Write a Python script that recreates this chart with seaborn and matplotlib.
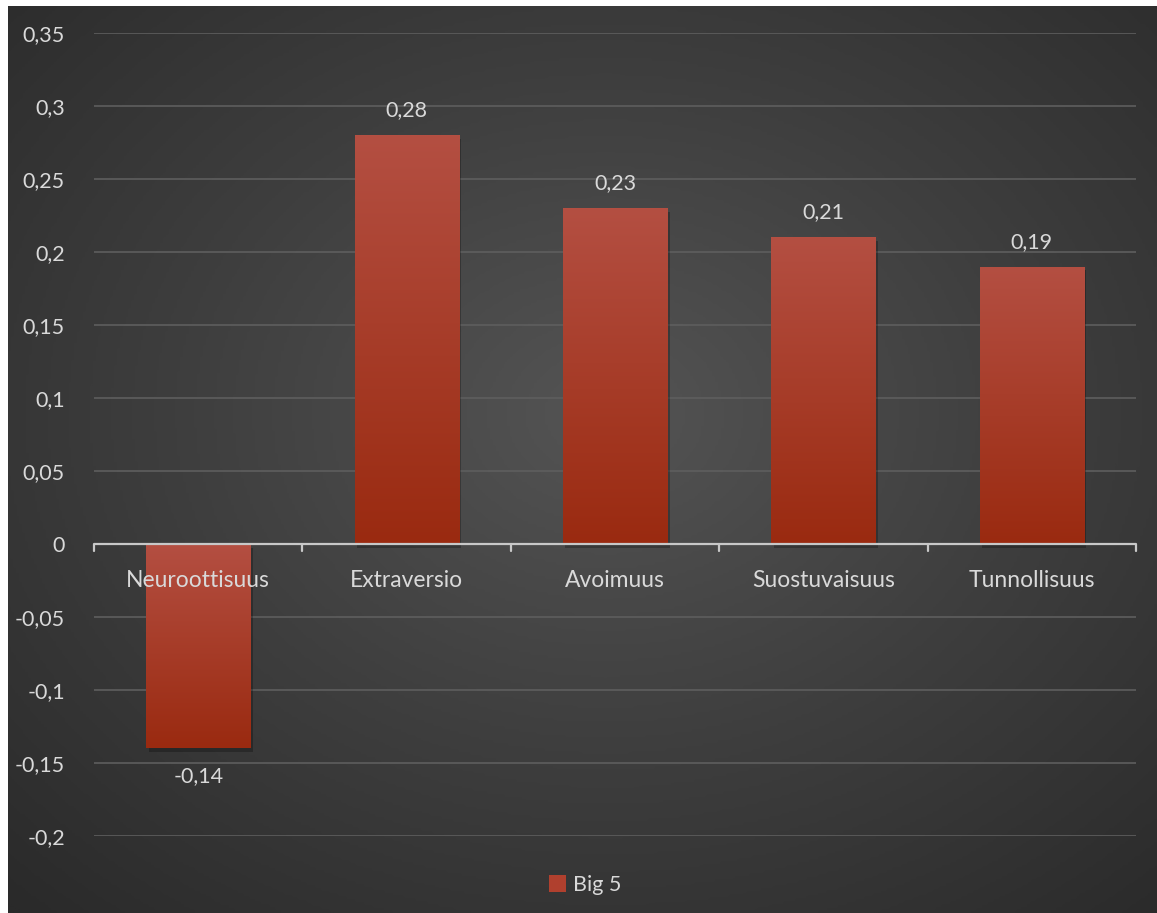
import numpy as np
import pandas as pd
import matplotlib
matplotlib.use("Agg")
import matplotlib.pyplot as plt
import seaborn as sns
from matplotlib.patches import Rectangle
from matplotlib.colors import LinearSegmentedColormap

categories = ["Neuroottisuus", "Extraversio", "Avoimuus", "Suostuvaisuus", "Tunnollisuus"]
values = [-0.14, 0.28, 0.23, 0.21, 0.19]
value_labels = ["-0,14", "0,28", "0,23", "0,21", "0,19"]
series_name = "Big 5"
yticks = [-0.2, -0.15, -0.1, -0.05, 0, 0.05, 0.1, 0.15, 0.2, 0.25, 0.3, 0.35]
ytick_labels = ["-0,2", "-0,15", "-0,1", "-0,05", "0", "0,05", "0,1", "0,15", "0,2", "0,25", "0,3", "0,35"]

sns.set_theme(style="white")
plt.rcParams['font.family'] = ['Lato', 'DejaVu Sans']
TXT = "#d9d9d9"

W, H = 1157, 913
fig = plt.figure(figsize=(W / 100, H / 100), dpi=100)
fig.patch.set_facecolor("white")

# background radial gradient
bx0, by0 = 8, 6
bg = fig.add_axes([bx0 / W, 0, (W - bx0) / W, (H - by0) / H])
bg.set_axis_off()
gx, gy = np.meshgrid(np.linspace(0, 1, 400), np.linspace(0, 1, 320))
cx, cy = 0.52, 0.45
r = np.sqrt(((gx - cx) / 0.75) ** 2 + ((gy - cy) / 0.75) ** 2)
r = np.clip(r, 0, 1)
bgcmap = LinearSegmentedColormap.from_list("bg", ["#545454", "#3e3e3e", "#2a2a2a"])
bg.imshow(r, cmap=bgcmap, aspect="auto", extent=[0, 1, 0, 1], origin="upper", vmin=0, vmax=1)
bg.set_xlim(0, 1); bg.set_ylim(0, 1)

ax_left, ax_right, ax_top, ax_bot = 94, 1136, 33, 836
ax = fig.add_axes([ax_left / W, 1 - ax_bot / H, (ax_right - ax_left) / W, (ax_bot - ax_top) / H])
ax.patch.set_alpha(0)

df = pd.DataFrame({"cat": categories, "val": values, "series": series_name})
sns.barplot(data=df, x="cat", y="val", hue="series", palette=["#b0402e"], width=0.5, ax=ax, legend=False)

ax.set_ylim(-0.2, 0.35)
ax.set_xlim(-0.5, len(categories) - 0.5)

for s in ax.spines.values():
    s.set_visible(False)
ax.set_yticks(yticks)
ax.set_yticklabels(ytick_labels, color=TXT, fontsize=15.5)
ax.tick_params(axis="y", length=0, pad=21)
ax.set_xticks([])
ax.set_xlabel(""); ax.set_ylabel("")
for yv in yticks:
    if yv != 0:
        ax.axhline(yv, color="#5e5e5e", lw=1.2, zorder=0)

# gradient bars with shadow
barcmap = LinearSegmentedColormap.from_list("bar", ["#9a2a10", "#b44f42"])
grad = np.linspace(1, 0, 256).reshape(-1, 1)
for p in list(ax.patches):
    x, y = p.get_x(), p.get_y()
    w, h = p.get_width(), p.get_height()
    y0, y1 = min(y, y + h), max(y, y + h)
    sh = Rectangle((x + 0.012, y0 - 0.0025), w, y1 - y0, facecolor="black", alpha=0.25,
                   edgecolor="none", zorder=1.5)
    ax.add_patch(sh)
    p.set_facecolor("none"); p.set_edgecolor("none")
    im = ax.imshow(grad, cmap=barcmap, aspect="auto", extent=[x, x + w, y0, y1],
                   origin="upper", zorder=2)
    im.set_clip_path(p)
ax.set_xlim(-0.5, len(categories) - 0.5)
ax.set_ylim(-0.2, 0.35)

# x axis line at zero with boundary ticks
ax.axhline(0, color="#c8c8c8", lw=1.6, zorder=3)
for b in np.arange(-0.5, len(categories), 1.0):
    ax.plot([b, b], [0, -0.0045], color="#c8c8c8", lw=1.6, zorder=3, clip_on=False)

for i, c in enumerate(categories):
    ax.annotate(c, (i, 0), xytext=(0, -26), textcoords="offset points", ha="center",
                va="center", color=TXT, fontsize=16.5, zorder=4)

for i, (v, lab) in enumerate(zip(values, value_labels)):
    off = 18 if v >= 0 else -20
    ax.annotate(lab, (i, v), xytext=(0, off), textcoords="offset points", ha="center",
                va="center", color=TXT, fontsize=15.5, zorder=4)

# legend
handle = Rectangle((0, 0), 1, 1, facecolor="#b0402e", edgecolor="none")
fig.legend([handle], [series_name], loc="center", bbox_to_anchor=(585 / W, 1 - 885 / H),
           frameon=False, fontsize=15.5, labelcolor=TXT, handlelength=0.8, handleheight=0.8,
           handletextpad=0.3)

fig.savefig("out.png", dpi=100, facecolor=fig.get_facecolor())
